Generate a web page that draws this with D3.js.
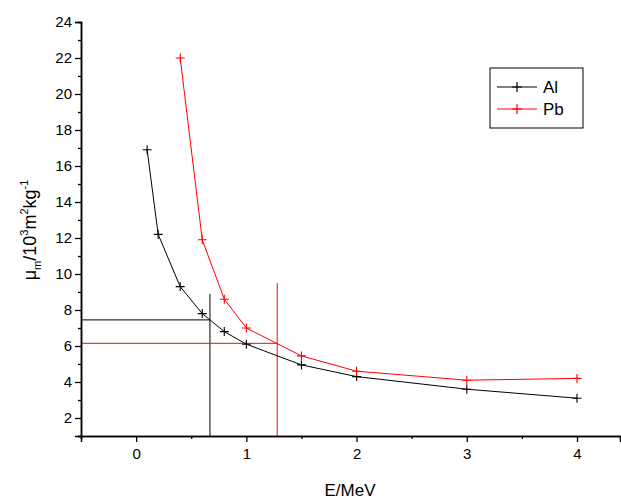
<!DOCTYPE html>
<html><head><meta charset="utf-8">
<script src="https://cdn.jsdelivr.net/npm/d3@7"></script>
<style>body{margin:0;background:#fff}text{font-family:Arial,"Liberation Sans",sans-serif}</style>
</head><body>
<svg id="c" width="621" height="501"></svg>
<script>
var alE = [0.1, 0.2, 0.4, 0.6, 0.8, 1, 1.5, 2, 3, 4];
var alMu = [16.9, 12.2, 9.3, 7.8, 6.8, 6.1, 4.95, 4.3, 3.6, 3.1];
var pbE = [0.4, 0.6, 0.8, 1, 1.5, 2, 3, 4];
var pbMu = [22, 11.9, 8.6, 7.0, 5.45, 4.6, 4.1, 4.2];
// guide lines: [x, y, top of vertical]
var alGuide = [0.67, 7.45, 8.9];
var pbGuide = [1.28, 6.15, 9.5];

var svg = d3.select("#c");
var x = d3.scaleLinear().domain([-0.5, 4.39]).range([81, 620]);
var y = d3.scaleLinear().domain([1, 24]).range([436, 22]);

function guide(g, col) {
  svg.append("line").attr("x1", x(-0.5)).attr("x2", x(g[0])).attr("y1", y(g[1])).attr("y2", y(g[1])).attr("stroke", col);
  svg.append("line").attr("x1", x(g[0])).attr("x2", x(g[0])).attr("y1", y(1)).attr("y2", y(g[2])).attr("stroke", col);
}
guide(alGuide, "#000");
guide(pbGuide, "#f00");

function series(xs, ys, col) {
  var pts = xs.map(function (d, i) { return [d, ys[i]]; });
  svg.append("path").datum(pts).attr("fill", "none").attr("stroke", col)
    .attr("d", d3.line().x(function (d) { return x(d[0]); }).y(function (d) { return y(d[1]); }));
  pts.forEach(function (d) {
    var px = x(d[0]), py = y(d[1]);
    svg.append("path").attr("d", "M" + (px - 4.5) + "," + py + "h9M" + px + "," + (py - 4.5) + "v9")
      .attr("stroke", col).attr("stroke-width", 1.1);
  });
}
series(alE, alMu, "#000");
series(pbE, pbMu, "#f00");

svg.append("g").attr("transform", "translate(0,436)")
  .call(d3.axisBottom(x).tickValues([0, 1, 2, 3, 4]).tickSize(6).tickPadding(6).tickFormat(d3.format("d")));
svg.append("g").attr("transform", "translate(0,436)")
  .call(d3.axisBottom(x).tickValues([-0.5, 0.5, 1.5, 2.5, 3.5]).tickSize(3).tickFormat(""));
svg.append("g").attr("transform", "translate(81,0)")
  .call(d3.axisLeft(y).tickValues(d3.range(2, 25, 2)).tickSize(6).tickPadding(3));
svg.append("g").attr("transform", "translate(81,0)")
  .call(d3.axisLeft(y).tickValues(d3.range(1, 25, 2)).tickSize(3).tickFormat(""));
svg.selectAll(".domain").attr("stroke-width", 1.5);
svg.selectAll(".tick line").attr("stroke-width", 1.3);
svg.selectAll(".tick text").style("font-size", "15px").attr("fill", "#000");

svg.append("text").attr("x", 350).attr("y", 496).attr("text-anchor", "middle").style("font-size", "17px").text("E/MeV");
var yl = svg.append("text").attr("transform", "translate(36,230) rotate(-90)").attr("text-anchor", "middle").style("font-size", "18px");
yl.append("tspan").text("μ");
yl.append("tspan").style("font-size", "11px").attr("dy", 5).text("m");
yl.append("tspan").attr("dy", -5).text("/10");
yl.append("tspan").style("font-size", "11px").attr("dy", -8).text("3");
yl.append("tspan").attr("dy", 8).text("m");
yl.append("tspan").style("font-size", "11px").attr("dy", -8).text("2");
yl.append("tspan").attr("dy", 8).text("kg");
yl.append("tspan").style("font-size", "11px").attr("dy", -8).text("-1");

var lg = svg.append("g");
lg.append("rect").attr("x", 490).attr("y", 68).attr("width", 93).attr("height", 60).attr("fill", "none").attr("stroke", "#000");
[["Al", "#000"], ["Pb", "#f00"]].forEach(function (d, i) {
  var ly = 87 + i * 22;
  lg.append("line").attr("x1", 497).attr("x2", 537).attr("y1", ly).attr("y2", ly).attr("stroke", d[1]);
  lg.append("path").attr("d", "M512," + ly + "h10M517," + (ly - 5) + "v10").attr("stroke", d[1]).attr("stroke-width", 1.2);
  lg.append("text").attr("x", 543).attr("y", ly + 6).style("font-size", "17px").text(d[0]);
});
</script>
</body></html>
